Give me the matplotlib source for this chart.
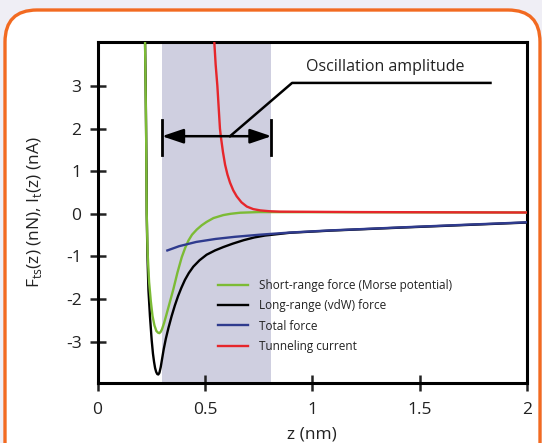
import numpy as np
import matplotlib.pyplot as plt
from matplotlib.patches import FancyBboxPatch

plt.rcParams['font.family'] = ['Open Sans', 'DejaVu Sans']

# curves (z in nm)
z_vdw = [0.221, 0.224, 0.226, 0.228, 0.229, 0.232, 0.237, 0.244, 0.252, 0.258,
         0.263, 0.268, 0.273, 0.278, 0.283, 0.288, 0.294, 0.300, 0.308, 0.318,
         0.330, 0.345, 0.360, 0.375, 0.390, 0.407, 0.425, 0.446, 0.475, 0.508,
         0.547, 0.586, 0.630, 0.680, 0.730, 0.780, 0.896, 1.083, 1.409, 2.000]
f_vdw = [4.10, 3.00, 2.00, 1.00, 0.00, -0.90, -1.79, -2.40, -2.96, -3.28,
         -3.47, -3.62, -3.71, -3.76, -3.77, -3.73, -3.60, -3.42, -3.18, -2.93,
         -2.68, -2.40, -2.15, -1.93, -1.74, -1.55, -1.39, -1.24, -1.09, -0.96,
         -0.86, -0.78, -0.70, -0.62, -0.555, -0.51, -0.445, -0.395, -0.325, -0.205]

z_morse = [0.221, 0.226, 0.229, 0.233, 0.240, 0.248, 0.256, 0.265, 0.274, 0.282,
           0.288, 0.294, 0.300, 0.310, 0.320, 0.333, 0.353, 0.372, 0.392, 0.408,
           0.423, 0.440, 0.462, 0.485, 0.508, 0.540, 0.586, 0.620, 0.664, 0.750,
           2.000]
f_morse = [4.10, 2.00, 0.00, -0.90, -1.60, -2.05, -2.40, -2.62, -2.75, -2.79,
           -2.80, -2.77, -2.71, -2.56, -2.38, -2.14, -1.77, -1.38, -1.02, -0.80,
           -0.63, -0.49, -0.37, -0.27, -0.19, -0.10, -0.03, 0.00, 0.025, 0.04,
           0.03]

z_total = [0.325, 0.380, 0.460, 0.550, 0.640, 0.757, 0.896, 1.083, 1.250, 1.409,
           1.700, 2.000]
f_total = [-0.86, -0.76, -0.66, -0.59, -0.54, -0.49, -0.44, -0.39, -0.355, -0.32,
           -0.26, -0.20]

z_tunnel = [0.543, 0.550, 0.558, 0.564, 0.570, 0.574, 0.584, 0.594, 0.605, 0.617,
            0.632, 0.648, 0.670, 0.695, 0.725, 0.757, 0.800, 0.850, 1.200, 2.000]
i_tunnel = [4.09, 3.50, 3.00, 2.50, 2.00, 1.82, 1.45, 1.15, 0.92, 0.73,
            0.55, 0.41, 0.27, 0.17, 0.11, 0.08, 0.06, 0.05, 0.04, 0.03]

amp_start, amp_end = 0.30, 0.81

fig = plt.figure(figsize=(5.42, 4.43), dpi=100)
fig.patch.set_facecolor('#efeef5')

# orange rounded frame, drawn in pixel units
bg = fig.add_axes([0, 0, 1, 1])
bg.set_xlim(0, 542)
bg.set_ylim(443, 0)
bg.axis('off')
bg.add_patch(FancyBboxPatch((5, 10), 535, 480, boxstyle='round,pad=0,rounding_size=32',
                            facecolor='white', edgecolor='#f26a21', lw=2.4))

ax = fig.add_axes([0.18, 0.1354, 0.7923, 0.7698])
ax.set_facecolor('none')

ax.axvspan(amp_start, amp_end, color='#cfcfe0', lw=0, zorder=0)

ax.plot(z_vdw, f_vdw, color='black', lw=1.7, label='Long-range (vdW) force', zorder=3)
ax.plot(z_morse, f_morse, color='#7cbb35', lw=1.7, label='Short-range force (Morse potential)', zorder=4)
ax.plot(z_total, f_total, color='#2f3b8e', lw=1.7, label='Total force', zorder=5)
ax.plot(z_tunnel, i_tunnel, color='#e6262b', lw=1.7, label='Tunneling current', zorder=6)

# oscillation amplitude marker
arrow_y = 1.82
ax.annotate('', xy=(amp_start, arrow_y), xytext=(amp_end, arrow_y),
            arrowprops=dict(arrowstyle='<|-|>,head_length=0.65,head_width=0.22',
                            mutation_scale=20, color='black', lw=1.8,
                            shrinkA=0, shrinkB=0), zorder=7)
for x in (amp_start, amp_end):
    ax.plot([x, x], [1.39, 2.19], color='black', lw=2, zorder=7)
ax.plot([0.617, 0.906, 1.83], [arrow_y, 3.07, 3.07], color='black', lw=1.8, zorder=7)
ax.text(1.34, 3.45, 'Oscillation amplitude', ha='center', va='center',
        fontsize=11.5, color='#222222')

ax.set_xlim(0, 2)
ax.set_ylim(-3.97, 4.03)
ax.set_xticks([0, 0.5, 1, 1.5, 2])
ax.set_xticklabels(['0', '0.5', '1', '1.5', '2'])
ax.set_yticks([-3, -2, -1, 0, 1, 2, 3])
ax.set_yticklabels(['-3', '-2', '-1', '0', '1', '2', '3'])
ax.tick_params(direction='inout', length=11, width=1.8, labelsize=12.5,
               colors='#222222')
ax.tick_params(axis='x', pad=8)
ax.tick_params(axis='y', pad=6)
for s in ax.spines.values():
    s.set_linewidth(2.2)
    s.set_color('black')

ax.set_xlabel('z (nm)', fontsize=12.5, color='#222222', labelpad=6)
ax.set_ylabel(r'F$_{\mathregular{ts}}$(z) (nN), I$_{\mathregular{t}}$(z) (nA)',
              fontsize=12.5, color='#222222', labelpad=16)

h, l = ax.get_legend_handles_labels()
order = [1, 0, 2, 3]
ax.legend([h[i] for i in order], [l[i] for i in order], loc='upper left',
          bbox_to_anchor=(0.255, 0.335), frameon=False, fontsize=8.5,
          handlelength=2.6, handletextpad=0.9, labelspacing=0.6,
          labelcolor='#222222')

fig.savefig('out.png', dpi=100, facecolor=fig.get_facecolor())
